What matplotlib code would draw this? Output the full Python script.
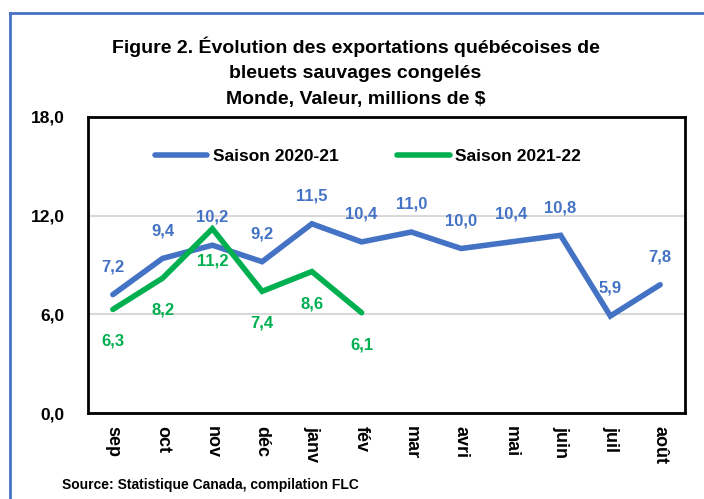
import matplotlib.pyplot as plt
from matplotlib.lines import Line2D
from matplotlib.ticker import FuncFormatter

plt.rcParams['font.family'] = ['Liberation Sans Narrow', 'Liberation Sans', 'DejaVu Sans']
plt.rcParams['font.weight'] = 'bold'

months = ['sep', 'oct', 'nov', 'déc', 'janv', 'fév', 'mar', 'avri', 'mai', 'juin', 'juil', 'août']
season_2020 = [7.2, 9.4, 10.2, 9.2, 11.5, 10.4, 11.0, 10.0, 10.4, 10.8, 5.9, 7.8]
season_2021 = [6.3, 8.2, 11.2, 7.4, 8.6, 6.1]
yticks = [0, 6, 12, 18]

blue = '#4472C4'
green = '#00B050'

fig = plt.figure(figsize=(7.04, 4.99), dpi=100)
ax = fig.add_axes([0.125, 0.172, 0.848, 0.594])

x1 = range(len(season_2020))
x2 = range(len(season_2021))
ax.plot(x1, season_2020, color=blue, lw=4, solid_capstyle='round', solid_joinstyle='miter',
        label='Saison 2020-21', zorder=3)
ax.plot(x2, season_2021, color=green, lw=4, solid_capstyle='round', solid_joinstyle='miter',
        label='Saison 2021-22', zorder=4)

fmt = lambda v: f'{v:.1f}'.replace('.', ',')
for x, v in zip(x1, season_2020):
    ax.annotate(fmt(v), (x, v), xytext=(0, 20), textcoords='offset points',
                ha='center', va='center', color=blue, fontsize=12, fontweight='bold')
for x, v in zip(x2, season_2021):
    ax.annotate(fmt(v), (x, v), xytext=(0, -23), textcoords='offset points',
                ha='center', va='center', color=green, fontsize=12, fontweight='bold')

ax.set_xlim(-0.5, len(months) - 0.5)
ax.set_ylim(0, 18)
ax.set_yticks(yticks)
ax.yaxis.set_major_formatter(FuncFormatter(lambda v, p: fmt(v)))
ax.set_xticks(range(len(months)))
ax.set_xticklabels(months, rotation=270, fontsize=13, fontweight='bold', va='top')
ax.tick_params(axis='y', labelsize=12.5, length=0, pad=17)
ax.tick_params(axis='x', length=0, pad=9)
for lbl in ax.get_yticklabels():
    lbl.set_fontweight('bold')
ax.grid(axis='y', color='#D9D9D9', lw=1.5)
ax.set_axisbelow(True)
for s in ax.spines.values():
    s.set_linewidth(2)
    s.set_color('black')

ax.legend(loc='center', bbox_to_anchor=(0.469, 0.865), ncol=2, frameon=False,
          prop={'size': 12.5, 'weight': 'bold'}, handlelength=3.0, handletextpad=0.3,
          columnspacing=3.4)

fig.text(0.505, 0.856, 'Figure 2. Évolution des exportations québécoises de\n'
         'bleuets sauvages congelés\nMonde, Valeur, millions de $',
         ha='center', va='center', fontsize=14, fontweight='bold', linespacing=1.65)
fig.text(0.088, 0.028, 'Source: Statistique Canada, compilation FLC', fontsize=10,
         fontweight='bold', va='center')

# blue frame around the chart
fig.add_artist(Line2D([0.014, 0.014], [0.0, 0.974], color=blue, lw=2, transform=fig.transFigure))
fig.add_artist(Line2D([0.014, 0.998], [0.974, 0.974], color=blue, lw=2, transform=fig.transFigure))

fig.savefig('out.png', dpi=100)
